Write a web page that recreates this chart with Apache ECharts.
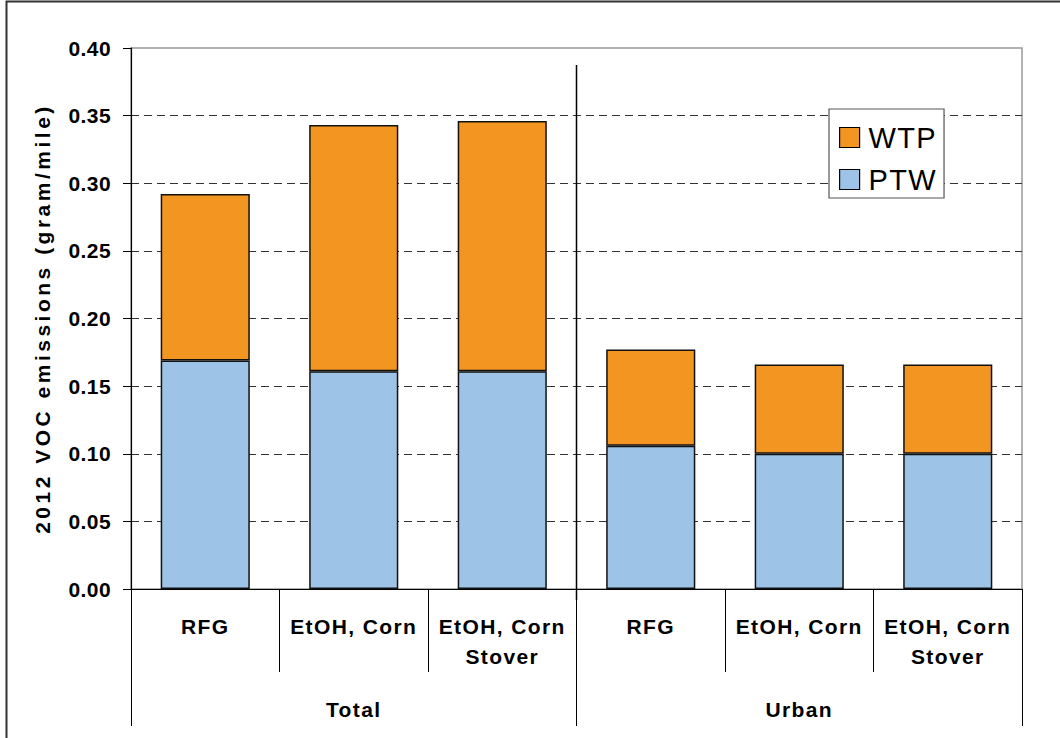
<!DOCTYPE html>
<html>
<head>
<meta charset="utf-8">
<style>
  html, body { margin: 0; padding: 0; background: #fff; }
  #chart { width: 1060px; height: 738px; }
</style>
<script src="https://cdn.jsdelivr.net/npm/echarts@6/dist/echarts.min.js"></script>
</head>
<body>
<div id="chart"></div>
<script>
// Fuel pathways, grouped into Total and Urban emissions
const categories = ['RFG', 'EtOH, Corn', 'EtOH, Corn\nStover', 'RFG', 'EtOH, Corn', 'EtOH, Corn\nStover'];
const groups = ['Total', 'Urban'];
// Pump-to-wheels and well-to-pump VOC emissions (gram/mile)
const ptw = [0.169, 0.161, 0.161, 0.106, 0.100, 0.100];
const wtp = [0.123, 0.182, 0.185, 0.071, 0.066, 0.066];
const yTicks = { min: 0, max: 0.40, interval: 0.05 };
const yTitle = '2012 VOC emissions (gram/mile)';
const seriesNames = ['WTP', 'PTW'];

const FONT = "'Liberation Sans', Arial, sans-serif";
const chart = echarts.init(document.getElementById('chart'), null, { renderer: 'svg' });

const option = {
  backgroundColor: '#ffffff',
  animation: false,
  textStyle: { fontFamily: FONT },
  grid: {
    left: 131, right: 38, top: 48, bottom: 149,
    show: true, borderColor: '#999', borderWidth: 1.5, backgroundColor: 'transparent'
  },
  legend: {
    data: seriesNames,
    orient: 'vertical',
    left: 829, top: 109,
    padding: [14, 11, 4, 10],
    itemWidth: 20, itemHeight: 20, itemGap: 13,
    backgroundColor: '#fff',
    borderColor: '#555', borderWidth: 1.2,
    textStyle: { fontFamily: FONT, fontSize: 29, color: '#000', lineHeight: 29, padding: [0, 0, 0, 4] },
    itemStyle: { borderColor: '#000', borderWidth: 1.2 },
    icon: 'rect'
  },
  xAxis: [
    {
      type: 'category',
      data: categories,
      position: 'bottom',
      axisLine: { show: true, lineStyle: { color: '#000', width: 1.2 } },
      axisTick: { show: true, length: 83, interval: 0, lineStyle: { color: '#000', width: 1 } },
      axisLabel: {
        interval: 0, margin: 22, color: '#000',
        fontFamily: FONT, fontWeight: 'bold', fontSize: 21, lineHeight: 30,
        verticalAlign: 'top'
      },
      splitLine: { show: false }
    },
    {
      type: 'category',
      data: groups,
      position: 'bottom',
      gridIndex: 0,
      axisLine: { show: false },
      axisTick: { show: true, length: 137, interval: 0, lineStyle: { color: '#000', width: 1 } },
      axisLabel: {
        interval: 0, margin: 105, color: '#000',
        fontFamily: FONT, fontWeight: 'bold', fontSize: 21, lineHeight: 30,
        verticalAlign: 'top'
      },
      splitLine: { show: false }
    }
  ],
  yAxis: {
    type: 'value',
    min: yTicks.min, max: yTicks.max, interval: yTicks.interval,
    name: yTitle,
    nameLocation: 'middle',
    nameGap: 78,
    nameTextStyle: { fontFamily: FONT, fontWeight: 'bold', fontSize: 21, color: '#000' },
    axisLine: { show: true, lineStyle: { color: '#000', width: 1.2 } },
    axisTick: { show: true, inside: false, length: 8, lineStyle: { color: '#000', width: 1 } },
    axisLabel: {
      margin: 20, color: '#000',
      fontFamily: FONT, fontWeight: 'bold', fontSize: 21,
      formatter: v => v.toFixed(2)
    },
    splitLine: {
      show: true, showMinLine: false, showMaxLine: false,
      lineStyle: { color: '#333', type: [8, 5], width: 1 }
    }
  },
  series: [
    {
      name: 'PTW', type: 'bar', stack: 'voc', data: ptw,
      barCategoryGap: '40%',
      itemStyle: { color: '#9DC3E6', borderColor: '#111', borderWidth: 1.5 }
    },
    {
      name: 'WTP', type: 'bar', stack: 'voc', data: wtp,
      barCategoryGap: '40%',
      itemStyle: { color: '#F39621', borderColor: '#111', borderWidth: 1.5 }
    }
  ]
};

chart.setOption(option);

// Divider between the Total and Urban groups, plus the outer frame
const xA = chart.convertToPixel({ xAxisIndex: 0 }, 2);
const xB = chart.convertToPixel({ xAxisIndex: 0 }, 3);
const xDiv = Math.round((xA + xB) / 2) - 0.5;
const yTop = chart.convertToPixel({ yAxisIndex: 0 }, 0.3875);
const yBase = chart.convertToPixel({ yAxisIndex: 0 }, 0);

chart.setOption({
  graphic: [
    {
      type: 'line', z: 10,
      shape: { x1: xDiv, y1: yTop, x2: xDiv, y2: yBase + 11 },
      style: { stroke: '#000', lineWidth: 1.5 }
    },
    {
      type: 'polyline', z: 10,
      shape: { points: [[6.5, 738], [6.5, 1.5], [1060, 1.5]] },
      style: { stroke: '#333', lineWidth: 2, fill: null }
    }
  ]
});

// Widen the tracking of the text, as the original spreadsheet font renders it
function spaceText() {
  const nodes = document.querySelectorAll('#chart svg text');
  nodes.forEach(t => {
    const s = t.textContent;
    let ls = '1.4px';
    if (s === yTitle) ls = '3.5px';
    else if (/^\d\.\d\d$/.test(s)) ls = '0.4px';
    else if (seriesNames.includes(s)) ls = '1.3px';
    t.style.letterSpacing = ls;
  });
}
spaceText();
chart.on('finished', spaceText);
</script>
</body>
</html>
